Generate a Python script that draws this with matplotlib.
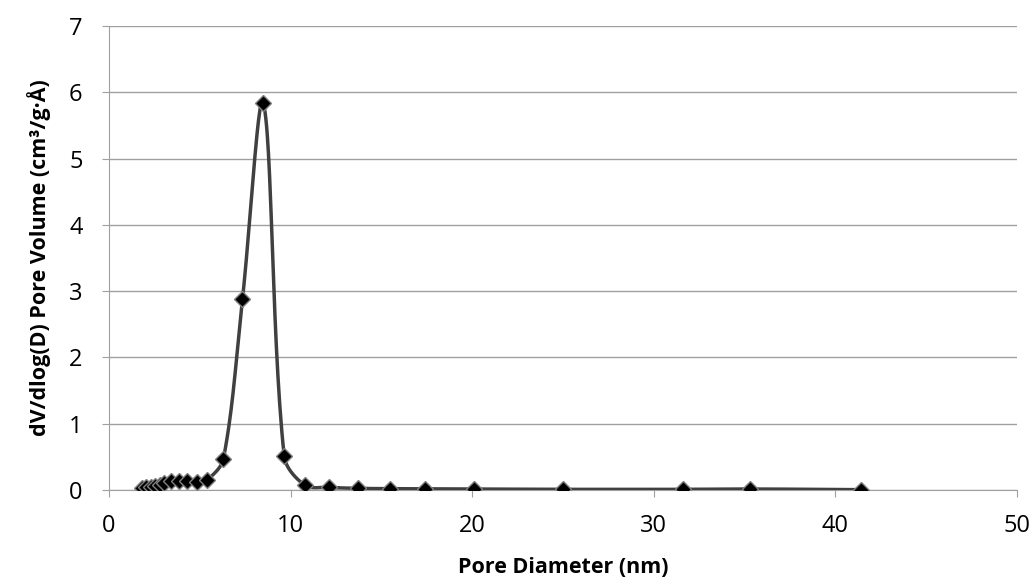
import matplotlib
matplotlib.use("Agg")
import matplotlib.pyplot as plt
import numpy as np

# pore size distribution
diameter = [1.8, 2.05, 2.3, 2.55, 2.8, 3.05, 3.4, 3.85, 4.3, 4.85, 5.4,
            6.3, 7.35, 8.5, 9.65, 10.8, 12.1, 13.7, 15.5, 17.4, 20.1,
            25.0, 31.6, 35.3, 41.4]
volume = [0.03, 0.04, 0.05, 0.06, 0.08, 0.10, 0.13, 0.14, 0.14, 0.12, 0.15,
          0.47, 2.88, 5.84, 0.51, 0.07, 0.04, 0.025, 0.02, 0.018, 0.015,
          0.01, 0.01, 0.015, 0.005]


def smooth(x, y, sx=18.2, sy=66.3, n=30):
    # smoothed line like a spreadsheet: bezier segments, handles weighted by
    # the screen length of the neighbouring segments
    p = np.column_stack([np.asarray(x, float) * sx, np.asarray(y, float) * sy])
    m = len(p)
    tang = np.zeros_like(p)
    for i in range(m):
        a = p[max(i - 1, 0)]
        b = p[min(i + 1, m - 1)]
        tang[i] = b - a
    t = np.linspace(0, 1, n)[:, None]
    out = []
    for i in range(m - 1):
        p0, p3 = p[i], p[i + 1]
        d = np.linalg.norm(p3 - p0)
        dl = np.linalg.norm(p0 - p[max(i - 1, 0)])
        dr = np.linalg.norm(p[min(i + 2, m - 1)] - p3)
        c1 = p0 + tang[i] * d / (dl + d + 1e-9) / 3
        c2 = p3 - tang[i + 1] * d / (d + dr + 1e-9) / 3
        b = (1 - t) ** 3 * p0 + 3 * (1 - t) ** 2 * t * c1 \
            + 3 * (1 - t) * t ** 2 * c2 + t ** 3 * p3
        out.append(b)
    out = np.vstack(out)
    return out[:, 0] / sx, out[:, 1] / sy


plt.rcParams['font.family'] = ['Open Sans', 'DejaVu Sans']

fig = plt.figure(figsize=(10.33, 5.79), dpi=100)
ax = fig.add_axes([0.1055, 0.1537, 0.879, 0.8013])

cx, cy = smooth(diameter, volume)
ax.plot(cx, cy, color='#404040', lw=2.5, zorder=3)
ax.plot(diameter, volume, ls='none', marker='D', ms=8, color='black',
        markeredgecolor='#808080', markeredgewidth=1, zorder=4)

ax.set_xlim(0, 50)
ax.set_ylim(0, 7)
ax.set_xticks(range(0, 51, 10))
ax.set_yticks(range(0, 8))
ax.grid(axis='y', color='#A0A0A0', lw=1)
ax.set_axisbelow(True)
for s in ['top', 'right']:
    ax.spines[s].set_visible(False)
for s in ['left', 'bottom']:
    ax.spines[s].set_color('#A0A0A0')
ax.tick_params(colors='#A0A0A0', labelcolor='black', labelsize=17, length=5)
ax.tick_params(axis='y', pad=14)
ax.tick_params(axis='x', pad=12)

ax.set_xlabel('Pore Diameter (nm)', fontsize=15.5, fontweight='bold', labelpad=14)
ax.set_ylabel('dV/dlog(D) Pore Volume (cm³/g·Å)', fontsize=15.5,
              fontweight='bold', labelpad=13)

fig.savefig('out.png', dpi=100)
